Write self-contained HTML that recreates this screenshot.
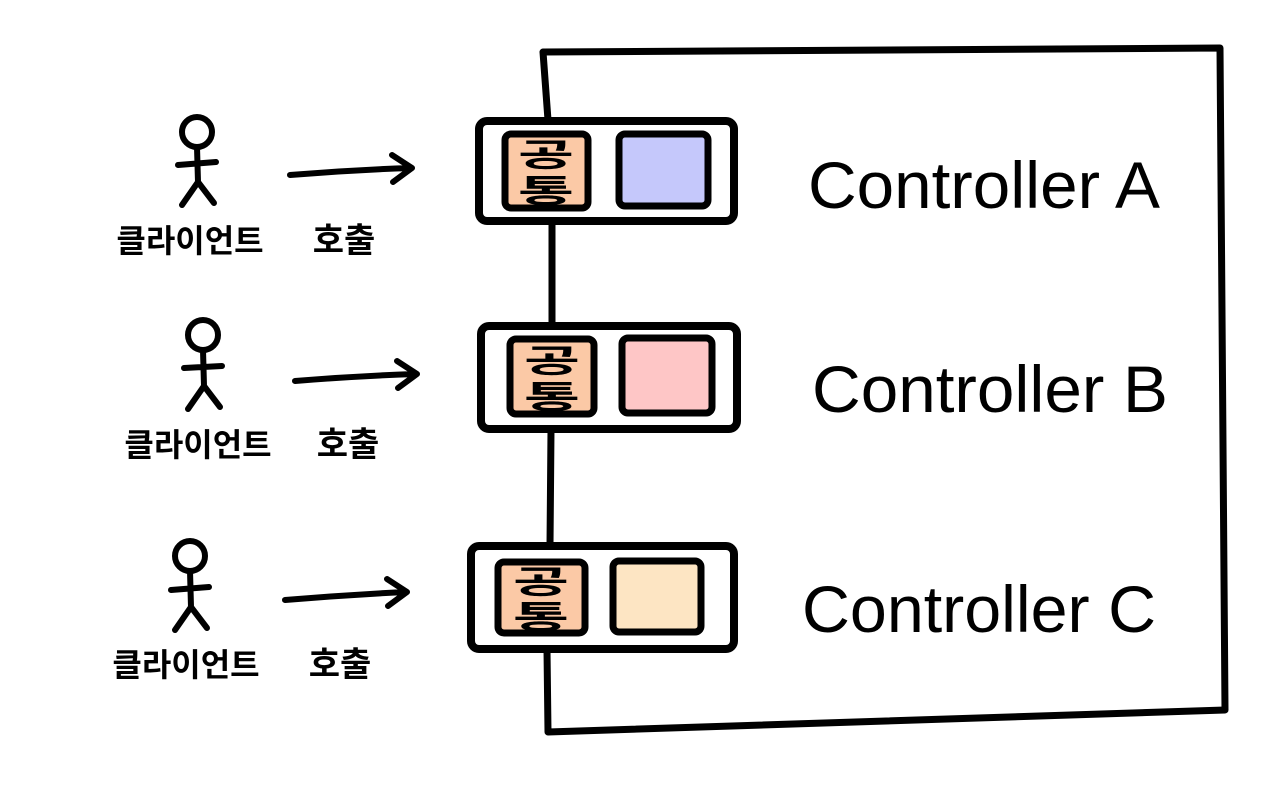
<!DOCTYPE html>
<html><head><meta charset="utf-8"><style>
html,body{margin:0;padding:0;background:#fff}
svg{display:block}
text{font-family:"Liberation Sans","Noto Sans CJK KR","NanumGothic",sans-serif;fill:#000}
text:not([font-weight]){font-weight:bold}
</style></head><body>
<svg width="1280" height="799" viewBox="0 0 1280 799">
<path d="M548,120 L543,52 L1220,48 L1225,710 L548,732 L547,650 M552,222 L552,325 M551,430 L550,545" fill="none" stroke="#000" stroke-width="7" stroke-linejoin="round" stroke-linecap="round"/>

<g>
<rect x="479" y="121" width="255" height="100" rx="8" fill="#fff" stroke="#000" stroke-width="8"/>
<rect x="505" y="134" width="83" height="74" rx="6" fill="#fbc9a6" stroke="#000" stroke-width="7"/>
<text x="518" y="166" font-size="32" textLength="56" lengthAdjust="spacingAndGlyphs">공</text>
<text x="518" y="202" font-size="32" textLength="56" lengthAdjust="spacingAndGlyphs">통</text>
<rect x="619" y="134" width="89" height="72" rx="6" fill="#c5c8fb" stroke="#000" stroke-width="7"/>
<text x="808" y="208" font-size="66" font-weight="normal" textLength="352" lengthAdjust="spacingAndGlyphs">Controller A</text>
</g>

<g>
<rect x="481" y="326" width="256" height="103" rx="8" fill="#fff" stroke="#000" stroke-width="8"/>
<rect x="510" y="339" width="84" height="75" rx="6" fill="#fbc9a6" stroke="#000" stroke-width="7"/>
<text x="524" y="372" font-size="32" textLength="56" lengthAdjust="spacingAndGlyphs">공</text>
<text x="524" y="408" font-size="32" textLength="56" lengthAdjust="spacingAndGlyphs">통</text>
<rect x="622" y="338" width="90" height="75" rx="6" fill="#fec6c6" stroke="#000" stroke-width="7"/>
<text x="812" y="412" font-size="66" font-weight="normal" textLength="356" lengthAdjust="spacingAndGlyphs">Controller B</text>
</g>

<g>
<rect x="471" y="546" width="263" height="103" rx="8" fill="#fff" stroke="#000" stroke-width="8"/>
<rect x="498" y="562" width="87" height="71" rx="6" fill="#fbc9a6" stroke="#000" stroke-width="7"/>
<text x="513" y="593" font-size="32" textLength="56" lengthAdjust="spacingAndGlyphs">공</text>
<text x="513" y="628" font-size="32" textLength="56" lengthAdjust="spacingAndGlyphs">통</text>
<rect x="613" y="561" width="88" height="71" rx="6" fill="#fde5c3" stroke="#000" stroke-width="7"/>
<text x="802" y="632" font-size="66" font-weight="normal" textLength="354" lengthAdjust="spacingAndGlyphs">Controller C</text>
</g>

<g fill="none" stroke="#000" stroke-width="6" stroke-linecap="round" stroke-linejoin="round">
<g>
<circle cx="197" cy="132" r="15"/><path d="M197,147 L198,182 M178,165 L216,162 M198,182 L182,205 M198,182 L214,203"/>
</g>
<g>
<circle cx="203" cy="335" r="15"/><path d="M203,350 L204,386 M184,368 L222,366 M204,386 L188,409 M204,386 L220,407"/>
</g>
<g>
<circle cx="190" cy="556" r="15"/><path d="M190,571 L191,607 M171,590 L209,587 M191,607 L175,630 M191,607 L207,628"/>
</g>
<path d="M290,175 Q350,170 410,168 M392,155 L412,168 L393,182"/>
<path d="M295,381 Q355,376 415,374 M397,361 L417,374 L398,388"/>
<path d="M285,600 Q345,595 405,592 M387,579 L407,592 L388,606"/>
</g>

<text x="190" y="252" font-size="32" text-anchor="middle">클라이언트</text>
<text x="344" y="252" font-size="34" text-anchor="middle">호출</text>
<text x="198" y="456" font-size="32" text-anchor="middle">클라이언트</text>
<text x="348" y="456" font-size="34" text-anchor="middle">호출</text>
<text x="186" y="676" font-size="32" text-anchor="middle">클라이언트</text>
<text x="340" y="676" font-size="34" text-anchor="middle">호출</text>
</svg>
</body></html>
